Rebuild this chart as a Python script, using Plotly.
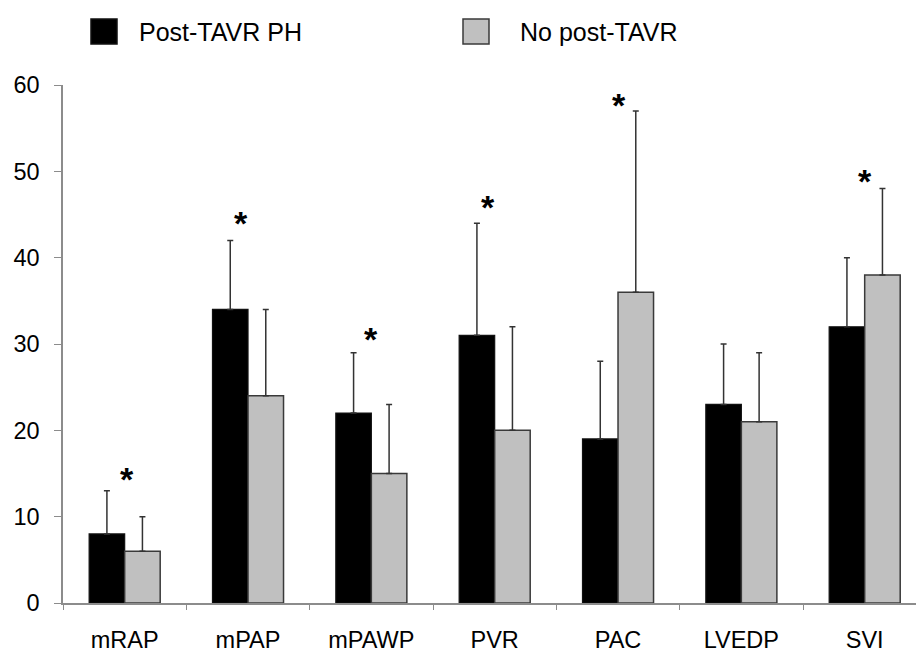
import plotly.graph_objects as go

# ---------------- data ----------------
categories = ["mRAP", "mPAP", "mPAWP", "PVR", "PAC", "LVEDP", "SVI"]
series_names = ["Post-TAVR PH", "No post-TAVR"]
post_tavr_ph = [8, 34, 22, 31, 19, 23, 32]
post_tavr_ph_sd = [5, 8, 7, 13, 9, 7, 8]
no_post_tavr = [6, 24, 15, 20, 36, 21, 38]
no_post_tavr_sd = [4, 10, 8, 12, 21, 8, 10]
significant = [True, True, True, True, True, False, True]
asterisk_y = [14.9, 44.6, 31.2, 46.4, 58.3, None, 49.5]
asterisk_xshift = [2, -7, 0, -7, 1, 0, 0]
y_ticks = [0, 10, 20, 30, 40, 50, 60]

# ---------------- layout constants ----------------
W, H = 916, 659
ML, MR, MT, MB = 63, 0, 85, 56
FONT = "Liberation Sans, Arial, sans-serif"
BLACK = "#000000"
GREY = "#c0c0c0"
EDGE = "#3a3a3a"
AXIS = "#8c8c8c"


def px_x(p):
    return (p - ML) / (W - ML - MR)


def px_y(p):
    return (H - MB - p) / (H - MT - MB)


fig = go.Figure()
fig.add_trace(go.Bar(
    x=categories, y=post_tavr_ph, name=series_names[0],
    marker=dict(color=BLACK, line=dict(color="#111111", width=1.2)),
    error_y=dict(type="data", array=post_tavr_ph_sd, symmetric=False,
                 arrayminus=[0] * len(categories),
                 color="#333333", thickness=1.5, width=3),
    showlegend=False,
))
fig.add_trace(go.Bar(
    x=categories, y=no_post_tavr, name=series_names[1],
    marker=dict(color=GREY, line=dict(color=EDGE, width=1.5)),
    error_y=dict(type="data", array=no_post_tavr_sd, symmetric=False,
                 arrayminus=[0] * len(categories),
                 color="#333333", thickness=1.5, width=3),
    showlegend=False,
))

annotations = []
for i, (sig, ay, xs) in enumerate(zip(significant, asterisk_y, asterisk_xshift)):
    if sig and ay is not None:
        annotations.append(dict(
            x=categories[i], y=ay, xref="x", yref="y", text="<b>*</b>",
            showarrow=False, xanchor="center", yanchor="middle",
            xshift=xs, yshift=-5,
            font=dict(family=FONT, size=34, color="black"),
        ))

# manual legend
shapes = []
legend_items = [(91, series_names[0], BLACK, "#111111", 137),
                (463, series_names[1], GREY, EDGE, 518)]
for x0, name, fill, edge, tx in legend_items:
    shapes.append(dict(type="rect", xref="paper", yref="paper",
                       x0=px_x(x0), x1=px_x(x0 + 26), y0=px_y(44), y1=px_y(19),
                       fillcolor=fill, line=dict(color=edge, width=1.5)))
    annotations.append(dict(x=px_x(tx), y=px_y(32), xref="paper", yref="paper",
                            text=name, showarrow=False, xanchor="left",
                            yanchor="middle",
                            font=dict(family=FONT, size=25, color="black")))

fig.update_layout(
    width=W, height=H,
    margin=dict(l=ML, r=MR, t=MT, b=MB, pad=0),
    paper_bgcolor="white", plot_bgcolor="white",
    barmode="group", bargap=0.424, bargroupgap=0,
    font=dict(family=FONT, size=23, color="black"),
    shapes=shapes, annotations=annotations,
    xaxis=dict(range=[-0.5, 6.416], showline=True, linecolor=AXIS, linewidth=1.5,
               ticks="outside", tickson="boundaries", ticklen=5, tickcolor=AXIS,
               tickwidth=1, showgrid=False, zeroline=False,
               tickfont=dict(family=FONT, size=23.5, color="black"),
               ticklabelstandoff=15),
    yaxis=dict(range=[0, 60], tickvals=y_ticks, showline=True, linecolor=AXIS,
               linewidth=1.5, ticks="outside", ticklen=7, tickcolor=AXIS,
               tickwidth=1, showgrid=False, zeroline=False,
               tickfont=dict(family=FONT, size=23.5, color="black"),
               ticklabelstandoff=10),
)

fig.write_html("out.html")
